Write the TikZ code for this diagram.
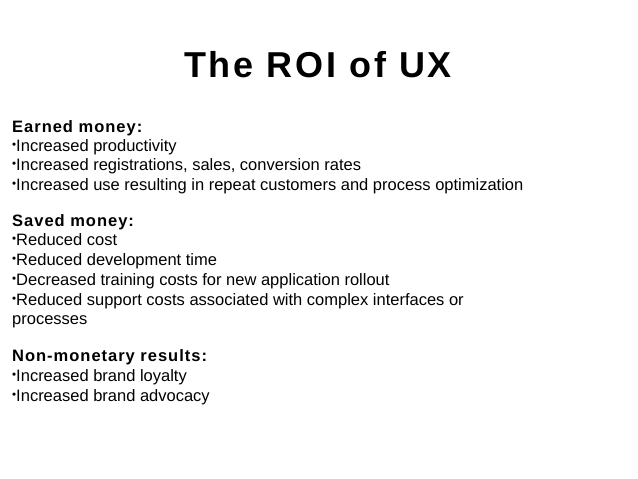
\documentclass[tikz,border=0pt]{standalone}
\usepackage{fontspec}
\setmainfont{Liberation Sans}
\tikzset{
 ln/.style={anchor=base west, inner sep=0pt, font=\fontsize{16.5}{19}\selectfont},
 hd/.style={anchor=base west, inner sep=0pt, font=\fontsize{16.5}{19}\selectfont\bfseries\addfontfeature{LetterSpace=6}},
}
\newcommand{\bl}{\raisebox{0.25ex}{\scalebox{0.7}{•}}}
\begin{document}
\begin{tikzpicture}[x=1pt,y=-1pt]
\useasboundingbox (0,0) rectangle (638,479);
\node[anchor=base, inner sep=0pt, font=\fontsize{36}{40}\selectfont\bfseries\addfontfeature{LetterSpace=8}] (t) at (318,77) {The ROI of UX};
\node[hd] (h1) at (12,132) {Earned money:};
\node[ln] (a1) at (12,151) {\bl Increased productivity};
\node[ln] (a2) at (12,170) {\bl Increased registrations, sales, conversion rates};
\node[ln] (a3) at (12,190) {\bl Increased use resulting in repeat customers and process optimization};
\node[hd] (h2) at (12,226) {Saved money:};
\node[ln] (b1) at (12,245) {\bl Reduced cost};
\node[ln] (b2) at (12,265) {\bl Reduced development time};
\node[ln] (b3) at (12,285) {\bl Decreased training costs for new application rollout};
\node[ln] (b4) at (12,305) {\bl Reduced support costs associated with complex interfaces or};
\node[ln] (b5) at (12,324) {processes};
\node[hd] (h3) at (12,361) {Non-monetary results:};
\node[ln] (c1) at (12,381) {\bl Increased brand loyalty};
\node[ln] (c2) at (12,401) {\bl Increased brand advocacy};
\end{tikzpicture}
\end{document}
